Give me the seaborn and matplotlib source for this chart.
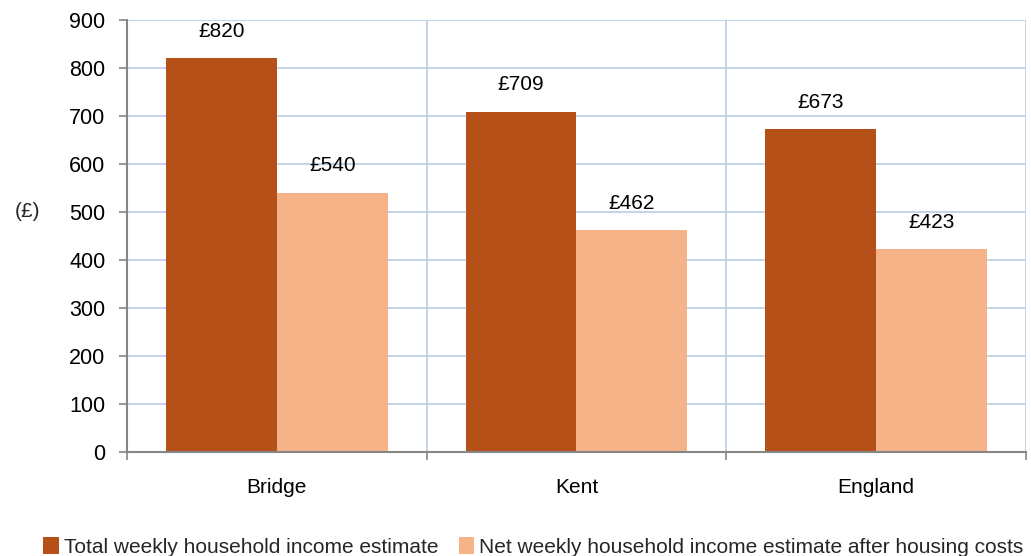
import matplotlib
matplotlib.use("Agg")
import matplotlib.pyplot as plt
import seaborn as sns
import pandas as pd
from matplotlib.patches import Patch

areas = ["Bridge", "Kent", "England"]
total_income = [820, 709, 673]
net_income = [540, 462, 423]
series_names = ["Total weekly household income estimate",
                "Net weekly household income estimate after housing costs"]
colors = ["#B55118", "#F7B388"]

df = pd.DataFrame({
    "area": areas * 2,
    "value": total_income + net_income,
    "series": [series_names[0]] * 3 + [series_names[1]] * 3,
})

sns.set_theme(style="white")
plt.rcParams["font.family"] = ["Liberation Sans", "DejaVu Sans"]

fig = plt.figure(figsize=(10.31, 5.56), dpi=100)
ax = fig.add_axes([0.1232, 0.187, 0.8718, 0.777])

sns.barplot(data=df, x="area", y="value", hue="series", palette=colors,
            width=0.74, gap=0, saturation=1, ax=ax, legend=False, zorder=3,
            linewidth=0, edgecolor="none")

for cont in ax.containers:
    ax.bar_label(cont, labels=[f"£{v:.0f}" for v in cont.datavalues],
                 padding=12.5, fontsize=15, color="#000000")

ax.set_ylim(0, 900)
ax.set_xlim(-0.5, 2.5)
ax.set_yticks(range(0, 901, 100))
ax.tick_params(axis="y", labelsize=15.5, length=6, width=1.2, color="#868686",
               left=True, pad=9.5, labelcolor="#000000")
ax.set_xticks([-0.5, 0.5, 1.5, 2.5], minor=True)
ax.tick_params(axis="x", which="major", length=0, labelsize=15, pad=19,
               labelcolor="#000000")
ax.tick_params(axis="x", which="minor", length=6, width=1.2, color="#868686",
               bottom=True)
ax.set_xlabel("")
ax.set_ylabel("")

ax.grid(axis="y", which="major", color="#B9CDE5", linewidth=1.2, zorder=0)
ax.grid(axis="x", which="minor", color="#B9CDE5", linewidth=1.2, zorder=0)
ax.set_axisbelow(True)

for s in ["top", "right"]:
    ax.spines[s].set_visible(False)
for s in ["left", "bottom"]:
    ax.spines[s].set_color("#868686")
    ax.spines[s].set_linewidth(1.5)
    ax.spines[s].set_zorder(4)

fig.text(28 / 1031, 1 - 211 / 556, "(£)", fontsize=15, ha="center", va="center")

handles = [Patch(facecolor=c, edgecolor="none") for c in colors]
fig.legend(handles, series_names, loc="lower left", bbox_to_anchor=(0.030, -0.024),
           ncol=2, frameon=False, fontsize=15, handlelength=0.75, handleheight=0.9,
           handletextpad=0.25, columnspacing=0.95, borderaxespad=0.2)

fig.savefig("out.png", dpi=100)
